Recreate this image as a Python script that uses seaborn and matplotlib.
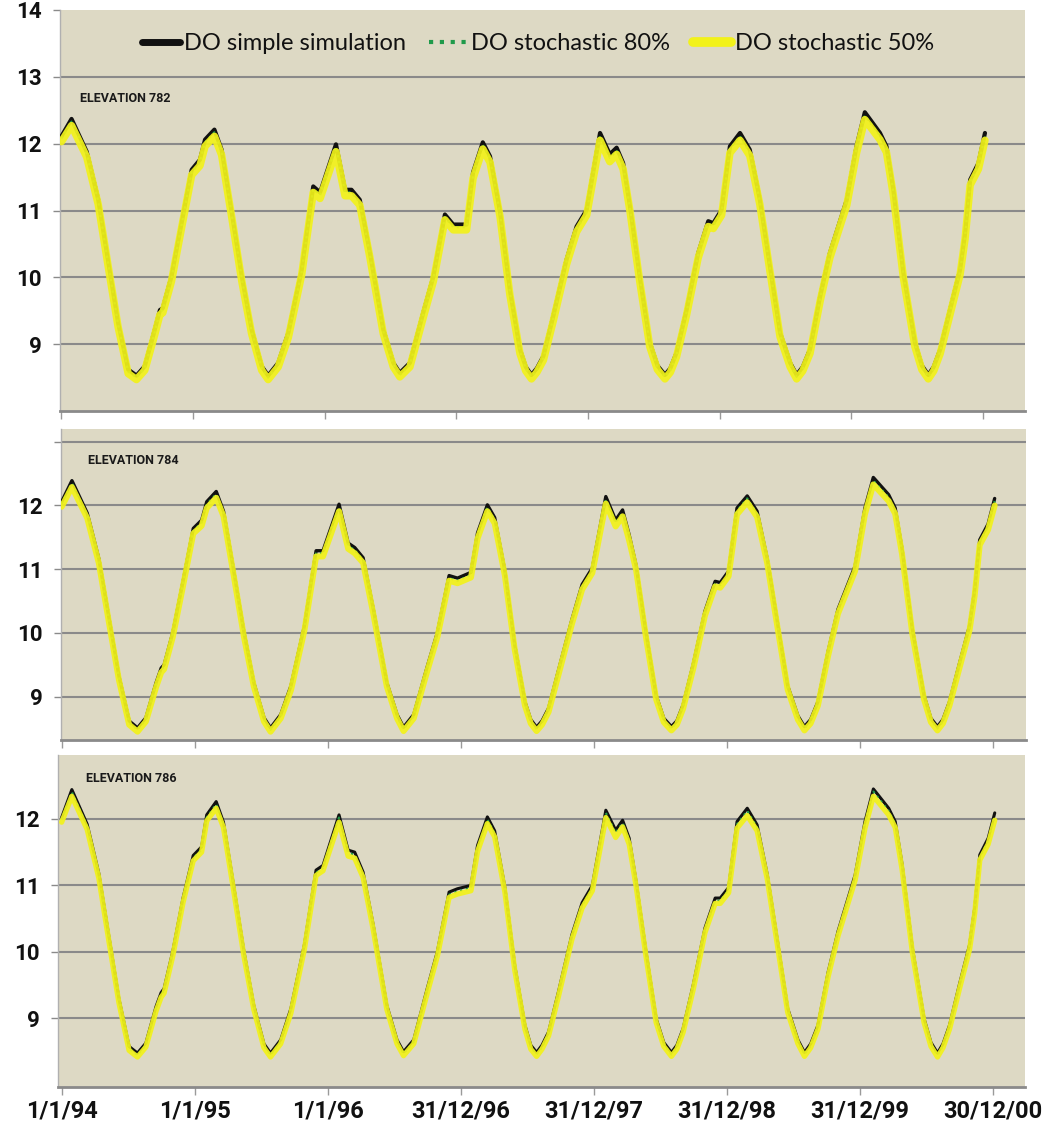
import numpy as np
import pandas as pd
import matplotlib
matplotlib.use("Agg")
import matplotlib.pyplot as plt
import seaborn as sns
from matplotlib.lines import Line2D

sns.set_style("white")
plt.rcParams['font.family'] = ['Lato', 'DejaVu Sans']
BOLD_FAMILY = ['Roboto', 'DejaVu Sans']

# ---------------- data ----------------
days = [0, 28, 70, 102, 130, 157, 185, 208, 231, 259,
        273, 281, 305, 333, 361, 384, 398, 424, 444, 472,
        500, 527, 555, 573, 601, 629, 666, 698, 717, 761,
        786, 804, 827, 855, 892, 920, 938, 966, 1003, 1031,
        1063, 1086, 1123, 1141, 1168, 1188, 1216, 1243, 1271, 1287,
        1303, 1318, 1336, 1363, 1400, 1428, 1456, 1493, 1520, 1539,
        1557, 1576, 1603, 1631, 1652, 1673, 1688, 1705, 1733, 1765,
        1793, 1807, 1830, 1853, 1881, 1908, 1936, 1964, 1992, 2020,
        2038, 2055, 2075, 2103, 2130, 2177, 2204, 2227, 2269, 2287,
        2306, 2334, 2366, 2385, 2403, 2418, 2436, 2463, 2491, 2505,
        2519, 2542, 2560]

p1_simple = [12.11, 12.37, 11.88, 11.16, 10.22, 9.32, 8.62, 8.53, 8.67, 9.22,
             9.51, 9.54, 10.01, 10.81, 11.61, 11.76, 12.06, 12.21, 11.91, 10.97,
             10.01, 9.22, 8.67, 8.53, 8.72, 9.17, 10.11, 11.36, 11.27, 11.99,
             11.31, 11.31, 11.16, 10.37, 9.22, 8.72, 8.57, 8.72, 9.47, 10.01,
             10.94, 10.79, 10.79, 11.57, 12.02, 11.81, 10.97, 9.81, 8.92, 8.66,
             8.54, 8.64, 8.82, 9.41, 10.26, 10.76, 11.01, 12.16, 11.84, 11.94,
             11.71, 11.06, 10.01, 9.02, 8.68, 8.54, 8.64, 8.87, 9.51, 10.36,
             10.84, 10.81, 11.01, 11.96, 12.16, 11.91, 11.16, 10.16, 9.17, 8.72,
             8.54, 8.66, 8.92, 9.71, 10.36, 11.16, 11.96, 12.47, 12.16, 11.96,
             11.31, 10.06, 9.02, 8.68, 8.54, 8.66, 8.92, 9.51, 10.11, 10.66,
             11.46, 11.71, 12.16]
p1_sto80 = [12.08, 12.33, 11.85, 11.13, 10.19, 9.29, 8.59, 8.50, 8.64, 9.19,
            9.48, 9.51, 9.98, 10.78, 11.57, 11.72, 12.02, 12.17, 11.88, 10.94,
            9.98, 9.19, 8.64, 8.50, 8.69, 9.14, 10.08, 11.32, 11.23, 11.95,
            11.27, 11.27, 11.12, 10.34, 9.19, 8.69, 8.54, 8.69, 9.44, 9.98,
            10.90, 10.75, 10.75, 11.53, 11.98, 11.77, 10.94, 9.78, 8.89, 8.63,
            8.51, 8.61, 8.79, 9.38, 10.23, 10.72, 10.97, 12.11, 11.79, 11.89,
            11.67, 11.03, 9.98, 8.99, 8.65, 8.51, 8.61, 8.84, 9.48, 10.33,
            10.80, 10.77, 10.97, 11.92, 12.11, 11.87, 11.13, 10.13, 9.14, 8.69,
            8.51, 8.63, 8.89, 9.68, 10.33, 11.12, 11.92, 12.42, 12.12, 11.92,
            11.27, 10.03, 8.99, 8.65, 8.51, 8.63, 8.89, 9.48, 10.08, 10.62,
            11.42, 11.67, 12.11]
p1_sto50 = [12.03, 12.27, 11.80, 11.09, 10.15, 9.26, 8.56, 8.47, 8.61, 9.15,
            9.44, 9.47, 9.94, 10.74, 11.53, 11.67, 11.96, 12.11, 11.83, 10.90,
            9.94, 9.16, 8.61, 8.47, 8.66, 9.10, 10.04, 11.27, 11.18, 11.88,
            11.22, 11.22, 11.08, 10.30, 9.16, 8.66, 8.51, 8.66, 9.40, 9.94,
            10.86, 10.71, 10.71, 11.48, 11.92, 11.72, 10.90, 9.74, 8.86, 8.60,
            8.48, 8.58, 8.76, 9.34, 10.19, 10.68, 10.93, 12.05, 11.73, 11.84,
            11.62, 10.99, 9.94, 8.96, 8.62, 8.48, 8.58, 8.81, 9.44, 10.29,
            10.76, 10.73, 10.93, 11.86, 12.05, 11.82, 11.09, 10.09, 9.11, 8.66,
            8.48, 8.60, 8.86, 9.64, 10.29, 11.08, 11.86, 12.36, 12.06, 11.87,
            11.23, 9.99, 8.96, 8.62, 8.48, 8.60, 8.86, 9.44, 10.04, 10.58,
            11.38, 11.62, 12.05]

p2_simple = [12.06, 12.39, 11.88, 11.16, 10.22, 9.32, 8.62, 8.51, 8.67, 9.22,
             9.45, 9.50, 10.01, 10.81, 11.64, 11.77, 12.06, 12.22, 11.91, 10.97,
             10.01, 9.22, 8.67, 8.51, 8.72, 9.17, 10.11, 11.29, 11.29, 12.02,
             11.41, 11.34, 11.18, 10.37, 9.22, 8.72, 8.52, 8.72, 9.47, 10.01,
             10.90, 10.86, 10.95, 11.57, 12.01, 11.81, 10.97, 9.81, 8.92, 8.64,
             8.52, 8.62, 8.82, 9.41, 10.21, 10.76, 11.02, 12.14, 11.77, 11.93,
             11.54, 11.06, 10.01, 9.02, 8.66, 8.53, 8.62, 8.87, 9.51, 10.34,
             10.81, 10.79, 10.97, 11.96, 12.15, 11.91, 11.16, 10.16, 9.17, 8.70,
             8.53, 8.64, 8.92, 9.71, 10.37, 11.05, 11.96, 12.44, 12.17, 11.96,
             11.31, 10.06, 9.02, 8.66, 8.53, 8.64, 8.92, 9.51, 10.11, 10.66,
             11.46, 11.71, 12.11]
p2_sto80 = [12.03, 12.35, 11.85, 11.13, 10.19, 9.29, 8.59, 8.48, 8.64, 9.19,
            9.42, 9.47, 9.98, 10.78, 11.60, 11.73, 12.02, 12.18, 11.88, 10.94,
            9.98, 9.19, 8.64, 8.48, 8.69, 9.14, 10.08, 11.25, 11.25, 11.97,
            11.37, 11.30, 11.14, 10.34, 9.19, 8.69, 8.49, 8.69, 9.44, 9.98,
            10.86, 10.82, 10.91, 11.53, 11.97, 11.77, 10.94, 9.78, 8.89, 8.61,
            8.49, 8.59, 8.79, 9.38, 10.18, 10.72, 10.98, 12.09, 11.73, 11.88,
            11.50, 11.03, 9.98, 8.99, 8.63, 8.50, 8.59, 8.84, 9.48, 10.31,
            10.77, 10.75, 10.93, 11.92, 12.11, 11.87, 11.13, 10.13, 9.14, 8.67,
            8.50, 8.61, 8.89, 9.68, 10.34, 11.01, 11.92, 12.39, 12.13, 11.92,
            11.27, 10.03, 8.99, 8.63, 8.50, 8.61, 8.89, 9.48, 10.08, 10.62,
            11.42, 11.67, 12.07]
p2_sto50 = [11.98, 12.29, 11.80, 11.09, 10.15, 9.26, 8.56, 8.45, 8.61, 9.15,
            9.38, 9.43, 9.94, 10.74, 11.56, 11.68, 11.96, 12.12, 11.83, 10.90,
            9.94, 9.16, 8.61, 8.45, 8.66, 9.10, 10.04, 11.20, 11.20, 11.91,
            11.32, 11.25, 11.10, 10.30, 9.16, 8.66, 8.46, 8.66, 9.40, 9.94,
            10.82, 10.78, 10.87, 11.48, 11.91, 11.72, 10.90, 9.74, 8.86, 8.58,
            8.46, 8.56, 8.76, 9.34, 10.14, 10.68, 10.94, 12.03, 11.67, 11.83,
            11.45, 10.99, 9.94, 8.96, 8.60, 8.47, 8.56, 8.81, 9.44, 10.27,
            10.73, 10.71, 10.89, 11.86, 12.05, 11.82, 11.09, 10.09, 9.11, 8.64,
            8.47, 8.58, 8.86, 9.64, 10.30, 10.97, 11.86, 12.33, 12.07, 11.87,
            11.23, 9.99, 8.96, 8.60, 8.47, 8.58, 8.86, 9.44, 10.04, 10.58,
            11.38, 11.62, 12.00]

p3_simple = [12.02, 12.44, 11.92, 11.18, 10.22, 9.30, 8.58, 8.48, 8.63, 9.18,
             9.39, 9.45, 10.01, 10.81, 11.45, 11.58, 12.06, 12.26, 11.95, 10.99,
             10.01, 9.20, 8.62, 8.48, 8.68, 9.15, 10.11, 11.23, 11.30, 12.06,
             11.53, 11.50, 11.20, 10.40, 9.20, 8.68, 8.50, 8.68, 9.45, 10.01,
             10.90, 10.95, 11.00, 11.60, 12.03, 11.82, 10.97, 9.80, 8.90, 8.60,
             8.49, 8.60, 8.80, 9.40, 10.26, 10.74, 11.00, 12.13, 11.83, 11.98,
             11.71, 11.06, 10.01, 9.00, 8.64, 8.49, 8.60, 8.85, 9.51, 10.36,
             10.81, 10.81, 10.97, 11.96, 12.16, 11.91, 11.16, 10.16, 9.15, 8.68,
             8.49, 8.62, 8.90, 9.70, 10.31, 11.16, 11.96, 12.45, 12.16, 11.96,
             11.31, 10.06, 9.00, 8.64, 8.48, 8.62, 8.90, 9.51, 10.11, 10.66,
             11.46, 11.71, 12.09]
p3_sto80 = [11.99, 12.40, 11.89, 11.15, 10.19, 9.27, 8.55, 8.45, 8.60, 9.15,
            9.36, 9.42, 9.98, 10.78, 11.41, 11.54, 12.02, 12.22, 11.92, 10.96,
            9.98, 9.17, 8.59, 8.45, 8.65, 9.12, 10.08, 11.19, 11.26, 12.02,
            11.49, 11.46, 11.16, 10.37, 9.17, 8.65, 8.47, 8.65, 9.42, 9.98,
            10.86, 10.91, 10.96, 11.56, 11.99, 11.78, 10.94, 9.77, 8.87, 8.57,
            8.46, 8.57, 8.77, 9.37, 10.23, 10.70, 10.96, 12.09, 11.79, 11.94,
            11.67, 11.03, 9.98, 8.97, 8.61, 8.46, 8.57, 8.82, 9.48, 10.33,
            10.77, 10.77, 10.93, 11.92, 12.12, 11.87, 11.13, 10.13, 9.12, 8.65,
            8.46, 8.59, 8.87, 9.67, 10.28, 11.12, 11.92, 12.41, 12.12, 11.92,
            11.27, 10.03, 8.97, 8.61, 8.45, 8.59, 8.87, 9.48, 10.08, 10.62,
            11.42, 11.67, 12.05]
p3_sto50 = [11.95, 12.34, 11.84, 11.11, 10.15, 9.24, 8.52, 8.42, 8.57, 9.11,
            9.32, 9.38, 9.94, 10.74, 11.37, 11.50, 11.97, 12.16, 11.87, 10.92,
            9.94, 9.14, 8.56, 8.42, 8.62, 9.08, 10.04, 11.15, 11.22, 11.95,
            11.44, 11.41, 11.12, 10.33, 9.14, 8.62, 8.44, 8.62, 9.38, 9.94,
            10.82, 10.87, 10.92, 11.51, 11.93, 11.73, 10.90, 9.73, 8.84, 8.54,
            8.43, 8.54, 8.74, 9.33, 10.19, 10.66, 10.92, 12.02, 11.72, 11.88,
            11.62, 10.99, 9.94, 8.94, 8.58, 8.43, 8.54, 8.79, 9.44, 10.29,
            10.73, 10.73, 10.89, 11.86, 12.05, 11.82, 11.09, 10.09, 9.09, 8.62,
            8.43, 8.56, 8.84, 9.63, 10.24, 11.08, 11.86, 12.34, 12.06, 11.87,
            11.23, 9.99, 8.94, 8.58, 8.42, 8.56, 8.84, 9.44, 10.04, 10.58,
            11.38, 11.62, 11.98]

tick_days = [0, 365, 730, 1095, 1460, 1825, 2190, 2555]
tick_labels = ['1/1/94', '1/1/95', '1/1/96', '31/12/96', '31/12/97',
               '31/12/98', '31/12/99', '30/12/00']
panel_titles = ['ELEVATION 782', 'ELEVATION 784', 'ELEVATION 786']
series_labels = ['DO simple simulation', 'DO stochastic 80%', 'DO stochastic 50%']

# ---------------- styling ----------------
W, H = 1043, 1124
BG = '#DDD9C4'
GRID = '#8a8a8a'
C_SIMPLE, C_80, C_50 = '#111111', '#1f9a4a', '#f2f21a'

fig = plt.figure(figsize=(W / 100, H / 100), dpi=100)
fig.patch.set_facecolor('white')


def frac(l, t, r, b):
    return [l / W, 1 - b / H, (r - l) / W, (b - t) / H]


panels = [
    dict(rect=frac(60, 10, 1025, 411), ylim=(8.0, 14.0), xlim=(-4, 2671),
         yt=[9, 10, 11, 12, 13, 14], ylab=['9', '10', '11', '12', '13', '14'],
         grid=[9, 10, 11, 12, 13], lw=(3.0, 5.4), title_xy=(80, 99),
         data=(p1_simple, p1_sto80, p1_sto50)),
    dict(rect=frac(61, 429, 1026, 740), ylim=(8.32, 13.2), xlim=(-2, 2646),
         yt=[9, 10, 11, 12, 13], ylab=['9', '10', '11', '12', ''],
         grid=[9, 10, 11, 12, 13], lw=(2.4, 4.3), title_xy=(88, 461),
         data=(p2_simple, p2_sto80, p2_sto50)),
    dict(rect=frac(58, 755, 1025, 1087), ylim=(7.97, 12.96), xlim=(-10, 2643),
         yt=[9, 10, 11, 12], ylab=['9', '10', '11', '12'],
         grid=[9, 10, 11, 12], lw=(2.2, 3.8), title_xy=(86, 778),
         data=(p3_simple, p3_sto80, p3_sto50)),
]

axes = []
for i, p in enumerate(panels):
    ax = fig.add_axes(p['rect'])
    ax.set_facecolor(BG)
    simple, s80, s50 = p['data']
    df = pd.DataFrame({'day': days, 'simple': simple, 's80': s80, 's50': s50})
    sns.lineplot(data=df, x='day', y='simple', ax=ax, color=C_SIMPLE,
                 lw=p['lw'][0], estimator=None, sort=False, zorder=3)
    sns.lineplot(data=df, x='day', y='s80', ax=ax, color=C_80,
                 lw=1.6, linestyle=':', estimator=None, sort=False, zorder=4)
    sns.lineplot(data=df, x='day', y='s50', ax=ax, color=C_50,
                 lw=p['lw'][1], estimator=None, sort=False, zorder=5, alpha=0.92)
    for g in p['grid']:
        ax.axhline(g, color=GRID, lw=1.5, zorder=1)
    ax.set_xlim(*p['xlim'])
    ax.set_ylim(*p['ylim'])
    ax.set_xlabel('')
    ax.set_ylabel('')
    ax.set_yticks(p['yt'])
    ax.set_yticklabels(p['ylab'], fontweight='bold', fontsize=16,
                       color='#111111', family=BOLD_FAMILY)
    ax.set_xticks(tick_days)
    if i == 2:
        ax.set_xticklabels(tick_labels, fontweight='bold', fontsize=17,
                           color='#111111', family=BOLD_FAMILY)
    else:
        ax.set_xticklabels([])
    ax.tick_params(axis='y', length=5, width=1, color='#8a8a8a', pad=8, left=True)
    ax.tick_params(axis='x', length=6, width=1, color='#9a9a9a', pad=3, bottom=True)
    for s in ['top', 'right']:
        ax.spines[s].set_visible(False)
    ax.spines['bottom'].set_color('#8a8a8a')
    ax.spines['bottom'].set_linewidth(2)
    ax.spines['left'].set_color('#b0b0b0')
    ax.spines['left'].set_linewidth(1)
    ax.grid(False)
    fig.text(p['title_xy'][0] / W, 1 - p['title_xy'][1] / H, panel_titles[i],
             fontsize=9, fontweight='bold', color='#1a1a1a', ha='left', va='center',
             family=BOLD_FAMILY)
    axes.append(ax)

handles = [Line2D([], [], color=C_SIMPLE, lw=5),
           Line2D([], [], color=C_80, lw=3, linestyle=(0, (1, 1.6))),
           Line2D([], [], color=C_50, lw=7)]
axes[0].legend(handles, series_labels, loc='center', ncol=3, frameon=False,
               bbox_to_anchor=(538 / W, 1 - 44 / H), bbox_transform=fig.transFigure,
               fontsize=17, handlelength=1.6, handletextpad=0.15, columnspacing=1.0,
               labelcolor='#111111')

fig.savefig('out.png', dpi=100, facecolor='white')
